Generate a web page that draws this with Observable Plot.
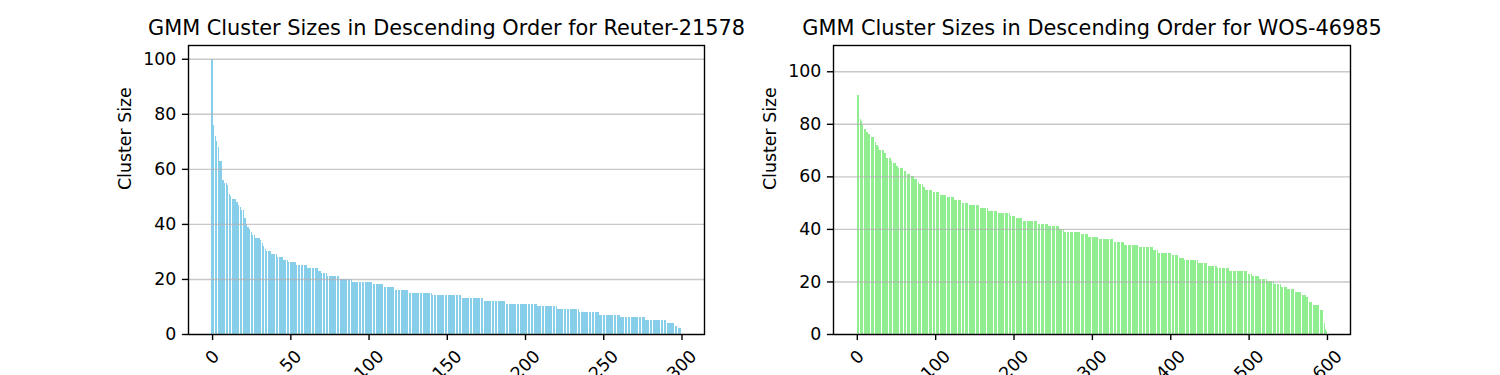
<!DOCTYPE html>
<html>
<head>
<meta charset="utf-8">
<script src="https://cdn.jsdelivr.net/npm/d3@7"></script>
<script src="https://cdn.jsdelivr.net/npm/@observablehq/plot@0.6"></script>
<style>
html, body { margin: 0; padding: 0; background: #fff; }
#chart { display: flex; width: 1500px; height: 375px; overflow: hidden; }
</style>
</head>
<body>
<div id="chart"></div>
<script>
// ---- Data (cluster sizes, sorted descending) ----
const reuterTitle = "GMM Cluster Sizes in Descending Order for Reuter-21578";
const wosTitle = "GMM Cluster Sizes in Descending Order for WOS-46985";
const yLabel = "Cluster Size";

const reuterSizes = [
  100, 76, 72, 70, 68, 63, 63, 56, 55, 55,
  54, 51, 50, 49, 49, 49, 48, 47, 46, 45,
  45, 42, 40, 39, 38, 37, 36, 36, 35, 35,
  35, 34, 33, 32, 31, 30, 30, 30, 29, 29,
  29, 29, 28, 28, 28, 28, 27, 27, 27, 26,
  26, 26, 26, 26, 25, 25, 25, 25, 25, 25,
  25, 24, 24, 24, 24, 24, 24, 24, 23, 23,
  22, 22, 22, 22, 21, 21, 21, 21, 21, 21,
  21, 21, 20, 20, 20, 20, 20, 20, 20, 20,
  19, 19, 19, 19, 19, 19, 19, 19, 19, 19,
  19, 19, 19, 18, 18, 18, 18, 18, 18, 18,
  17, 17, 17, 17, 17, 17, 17, 16, 16, 16,
  16, 16, 16, 16, 16, 16, 15, 15, 15, 15,
  15, 15, 15, 15, 15, 15, 15, 15, 15, 15,
  15, 14, 14, 14, 14, 14, 14, 14, 14, 14,
  14, 14, 14, 14, 14, 14, 14, 14, 14, 14,
  13, 13, 13, 13, 13, 13, 13, 13, 13, 13,
  13, 13, 13, 13, 12, 12, 12, 12, 12, 12,
  12, 12, 12, 12, 12, 12, 12, 12, 11, 11,
  11, 11, 11, 11, 11, 11, 11, 11, 11, 11,
  11, 11, 11, 11, 11, 11, 11, 11, 10, 10,
  10, 10, 10, 10, 10, 10, 10, 10, 10, 10,
  10, 9, 9, 9, 9, 9, 9, 9, 9, 9,
  9, 9, 9, 9, 9, 8, 8, 8, 8, 8,
  8, 8, 8, 8, 8, 8, 8, 8, 7, 7,
  7, 7, 7, 7, 7, 7, 7, 7, 7, 7,
  7, 6, 6, 6, 6, 6, 6, 6, 6, 6,
  6, 6, 6, 6, 6, 6, 6, 5, 5, 5,
  5, 5, 5, 5, 5, 5, 5, 5, 5, 5,
  5, 4, 4, 4, 4, 4, 3, 3, 2, 2
];

const wosSizes = [
  91, 91, 91, 91, 91, 82, 81, 80, 80, 79,
  78, 78, 77, 77, 77, 76, 76, 76, 75, 75,
  75, 75, 73, 73, 73, 72, 72, 71, 71, 70,
  70, 70, 70, 70, 70, 69, 69, 69, 67, 67,
  67, 67, 67, 67, 66, 66, 66, 65, 65, 65,
  65, 64, 64, 63, 63, 63, 63, 63, 63, 63,
  63, 62, 62, 62, 62, 61, 61, 61, 60, 60,
  60, 60, 60, 60, 59, 59, 59, 58, 58, 58,
  57, 57, 57, 57, 57, 56, 56, 56, 55, 55,
  55, 55, 55, 55, 55, 55, 55, 54, 54, 54,
  54, 54, 54, 54, 54, 54, 53, 53, 53, 53,
  53, 53, 53, 53, 53, 53, 52, 52, 52, 52,
  52, 52, 52, 52, 52, 51, 51, 51, 51, 51,
  51, 51, 51, 51, 51, 50, 50, 50, 50, 50,
  50, 50, 50, 50, 49, 49, 49, 49, 49, 49,
  49, 49, 49, 49, 49, 49, 49, 49, 48, 48,
  48, 48, 48, 48, 48, 48, 48, 48, 47, 47,
  47, 47, 47, 47, 47, 47, 47, 47, 47, 47,
  47, 46, 46, 46, 46, 46, 46, 46, 46, 46,
  46, 46, 46, 46, 46, 46, 45, 45, 45, 45,
  45, 45, 45, 45, 44, 44, 44, 44, 44, 44,
  44, 44, 44, 43, 43, 43, 43, 43, 43, 43,
  43, 43, 43, 43, 43, 43, 43, 43, 43, 43,
  43, 43, 42, 42, 42, 42, 42, 42, 42, 42,
  42, 42, 42, 42, 42, 41, 41, 41, 41, 41,
  41, 41, 41, 41, 41, 41, 41, 41, 40, 40,
  40, 40, 40, 40, 40, 39, 39, 39, 39, 39,
  39, 39, 39, 39, 39, 39, 39, 39, 39, 39,
  39, 39, 39, 39, 39, 39, 39, 38, 38, 38,
  38, 38, 38, 38, 38, 38, 37, 37, 37, 37,
  37, 37, 37, 37, 37, 37, 37, 37, 37, 37,
  36, 36, 36, 36, 36, 36, 36, 36, 36, 36,
  36, 36, 36, 36, 36, 36, 36, 36, 36, 35,
  35, 35, 35, 35, 35, 35, 35, 35, 35, 35,
  35, 35, 34, 34, 34, 34, 34, 34, 34, 34,
  34, 34, 34, 34, 34, 34, 34, 34, 34, 34,
  34, 33, 33, 33, 33, 33, 33, 33, 33, 33,
  33, 33, 33, 33, 33, 33, 33, 33, 32, 32,
  32, 32, 32, 32, 32, 31, 31, 31, 31, 31,
  31, 31, 31, 31, 31, 31, 31, 31, 31, 31,
  31, 31, 30, 30, 30, 30, 30, 30, 30, 30,
  29, 29, 29, 29, 29, 29, 29, 29, 28, 28,
  28, 28, 28, 28, 28, 28, 28, 28, 28, 28,
  28, 28, 28, 28, 28, 28, 27, 27, 27, 27,
  27, 27, 27, 27, 27, 27, 27, 26, 26, 26,
  26, 26, 26, 26, 26, 26, 26, 26, 26, 26,
  25, 25, 25, 25, 25, 25, 25, 25, 25, 25,
  25, 25, 25, 25, 25, 25, 24, 24, 24, 24,
  24, 24, 24, 24, 24, 24, 24, 24, 24, 24,
  24, 24, 24, 24, 24, 24, 24, 24, 24, 23,
  23, 23, 23, 23, 23, 22, 22, 22, 22, 22,
  22, 22, 22, 22, 21, 21, 21, 21, 21, 21,
  21, 21, 21, 21, 20, 20, 20, 20, 20, 20,
  20, 20, 20, 19, 19, 19, 19, 19, 19, 19,
  19, 19, 18, 18, 18, 18, 18, 18, 18, 18,
  17, 17, 17, 17, 17, 17, 17, 17, 17, 16,
  16, 16, 16, 16, 16, 16, 16, 16, 16, 15,
  15, 15, 15, 15, 14, 14, 12, 12, 12, 12,
  12, 12, 11, 11, 11, 11, 11, 11, 11, 11,
  11, 9, 9, 9, 9, 9, 5, 4, 2, 1
];

const reuterXTicks = [0, 50, 100, 150, 200, 250, 300];
const wosXTicks = [0, 100, 200, 300, 400, 500, 600];
const yTicks = [0, 20, 40, 60, 80, 100];

// ---- Drawing (matplotlib-like metrics at 125 dpi) ----
const FS = 17.36;          // 10pt
const TITLE_FS = 20.83;    // 12pt
const TICK = 6.08;         // 3.5pt
const PAD = 6.08;
const LW = 1.39;           // 0.8pt
const DIGIT_W = 0.636 * FS;

function panel({sizes, color, title, xDomain, yDomain, xTicks, width, marginLeft, marginRight}) {
  const table = sizes.map((size, rank) => ({rank, size}));
  const labelMarks = [1, 2, 3].map(n => {
    const bbox = (n * DIGIT_W + FS * 1.1) * Math.SQRT1_2;
    return Plot.text(xTicks.filter(t => String(t).length === n), {
      x: d => d,
      text: d => String(d),
      frameAnchor: "bottom",
      rotate: -45,
      textAnchor: "middle",
      lineAnchor: "middle",
      fontSize: FS,
      dy: TICK + PAD + bbox / 2
    });
  });
  return Plot.plot({
    width,
    height: 375,
    marginTop: 45,
    marginBottom: 41,
    marginLeft,
    marginRight,
    style: {fontFamily: "DejaVu Sans", fontSize: FS + "px", color: "black", background: "white", overflow: "visible"},
    x: {type: "linear", domain: xDomain},
    y: {type: "linear", domain: yDomain},
    marks: [
      Plot.rectY(table, {x1: d => d.rank - 0.4, x2: d => d.rank + 0.4, y: "size", fill: color, shapeRendering: "crispEdges"}),
      Plot.ruleY(yTicks, {stroke: "#b0b0b0", strokeOpacity: 0.7, strokeWidth: LW}),
      Plot.frame({stroke: "black", strokeWidth: LW}),
      Plot.axisY(yTicks, {tickSize: TICK, tickPadding: PAD, fontSize: FS, strokeWidth: LW, label: null}),
      Plot.axisX(xTicks, {tickSize: TICK, fill: "none", strokeWidth: LW, label: null}),
      ...labelMarks,
      Plot.text([yLabel], {frameAnchor: "left", rotate: -90, dx: -63, fontSize: FS}),
      Plot.text([title], {frameAnchor: "top", dy: -10.4, lineAnchor: "bottom", fontSize: TITLE_FS})
    ]
  });
}

const chart = document.getElementById("chart");
chart.appendChild(panel({
  sizes: reuterSizes, color: "skyblue", title: reuterTitle,
  xDomain: [-15.39, 314.39], yDomain: [0, 105], xTicks: reuterXTicks,
  width: 750, marginLeft: 188, marginRight: 46
}));
chart.appendChild(panel({
  sizes: wosSizes, color: "lightgreen", title: wosTitle,
  xDomain: [-30.39, 629.39], yDomain: [0, 110], xTicks: wosXTicks,
  width: 750, marginLeft: 83, marginRight: 150
}));
</script>
</body>
</html>
